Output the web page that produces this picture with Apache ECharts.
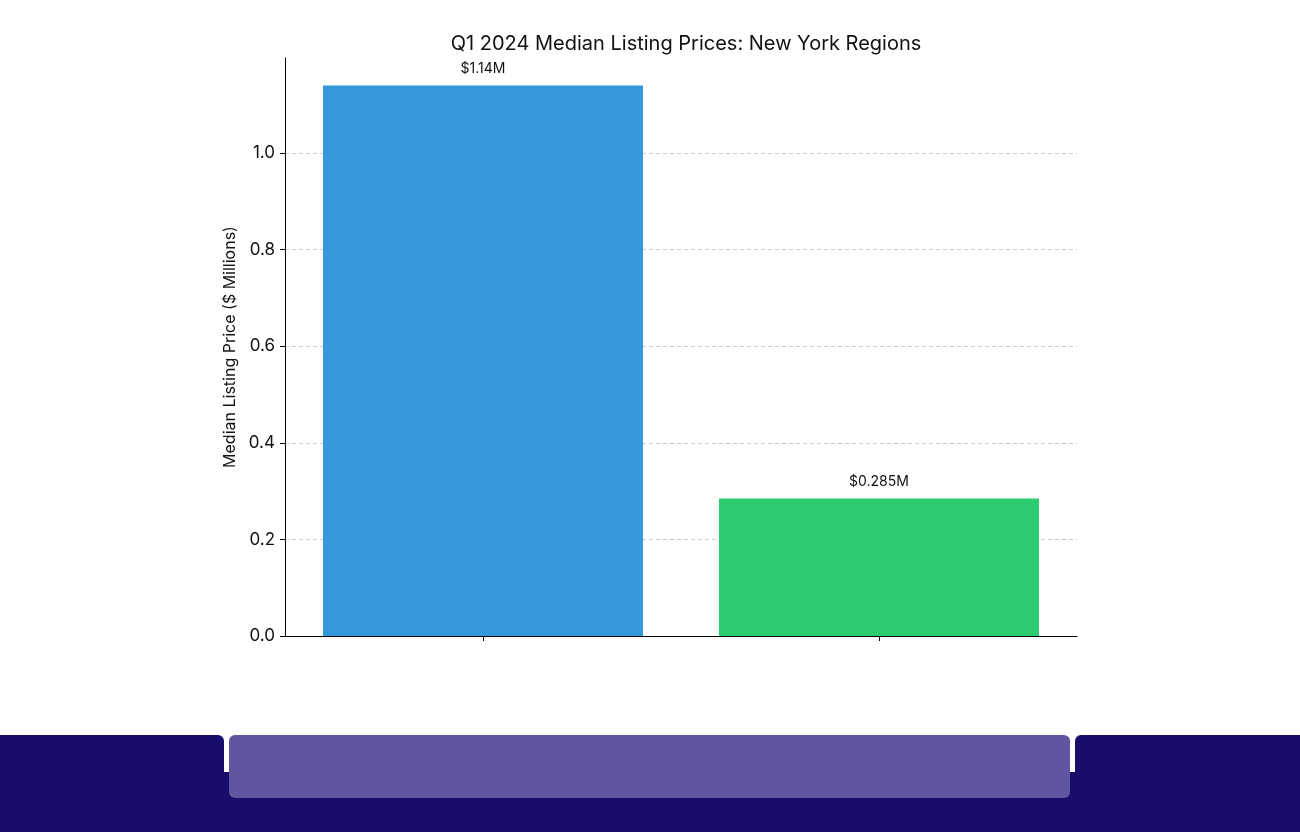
<!DOCTYPE html>
<html>
<head>
<meta charset="utf-8">
<script src="https://cdn.jsdelivr.net/npm/echarts@6/dist/echarts.min.js"></script>
<style>
html,body{margin:0;padding:0;background:#fff;}
#chart{width:1300px;height:832px;}
</style>
</head>
<body>
<div id="chart"></div>
<script>
const categories = ["New York City", "Rest of New York State"];
const values = [1.14, 0.285];
const valueLabels = ["$1.14M", "$0.285M"];
const barColors = ["#3498db", "#2ecc71"];
const titleText = "Q1 2024 Median Listing Prices: New York Regions";
const yAxisName = "Median Listing Price ($ Millions)";

const font = "Inter, 'Open Sans', sans-serif";
const chart = echarts.init(document.getElementById('chart'), null, {renderer: 'canvas'});
chart.setOption({
  animation: false,
  backgroundColor: '#ffffff',
  title: {
    text: titleText, left: 681, top: 29, textAlign: 'center',
    textStyle: {fontFamily: font, fontSize: 20, fontWeight: 'normal', color: '#111'}
  },
  grid: {left: 285, right: 223, top: 58, bottom: 196, containLabel: false},
  xAxis: {
    type: 'category', data: categories,
    axisLine: {lineStyle: {color: '#000', width: 1}},
    axisTick: {show: true, alignWithLabel: true, length: 5, lineStyle: {color: '#000'}},
    axisLabel: {color: '#ffffff', fontFamily: font, fontSize: 14, margin: 12},
    splitLine: {show: false}
  },
  yAxis: {
    type: 'value', min: 0, max: 1.197, interval: 0.2,
    name: yAxisName, nameLocation: 'middle', nameGap: 45,
    nameTextStyle: {fontFamily: font, fontSize: 16, color: '#111'},
    axisLine: {show: true, lineStyle: {color: '#000', width: 1}},
    axisTick: {show: true, length: 5, lineStyle: {color: '#000'}},
    axisLabel: {showMaxLabel: false, color: '#111', fontFamily: font, fontSize: 17, margin: 10,
      formatter: v => v.toFixed(1)},
    splitLine: {show: true, showMaxLine: false, showMinLine: false,
      lineStyle: {color: '#cccccc', type: [4, 3], width: 1}}
  },
  series: [{
    type: 'bar', barWidth: 320,
    data: values.map((v, i) => ({value: v, itemStyle: {color: barColors[i]}})),
    label: {
      show: true, position: 'top', distance: 10,
      fontFamily: font, fontSize: 14, color: '#111',
      formatter: p => valueLabels[p.dataIndex]
    }
  }],
  graphic: [
    {type: 'rect', shape: {x: 0, y: 735, width: 224, height: 97, r: [0, 6, 0, 0]}, style: {fill: '#190d6b'}, silent: true},
    {type: 'rect', shape: {x: 1075, y: 735, width: 225, height: 97, r: [6, 0, 0, 0]}, style: {fill: '#190d6b'}, silent: true},
    {type: 'rect', shape: {x: 220, y: 772, width: 860, height: 60}, style: {fill: '#190d6b'}, silent: true},
    {type: 'rect', shape: {x: 229, y: 735, width: 841, height: 63, r: 6}, style: {fill: '#5f55a0'}, silent: true}
  ]
});
</script>
</body>
</html>
